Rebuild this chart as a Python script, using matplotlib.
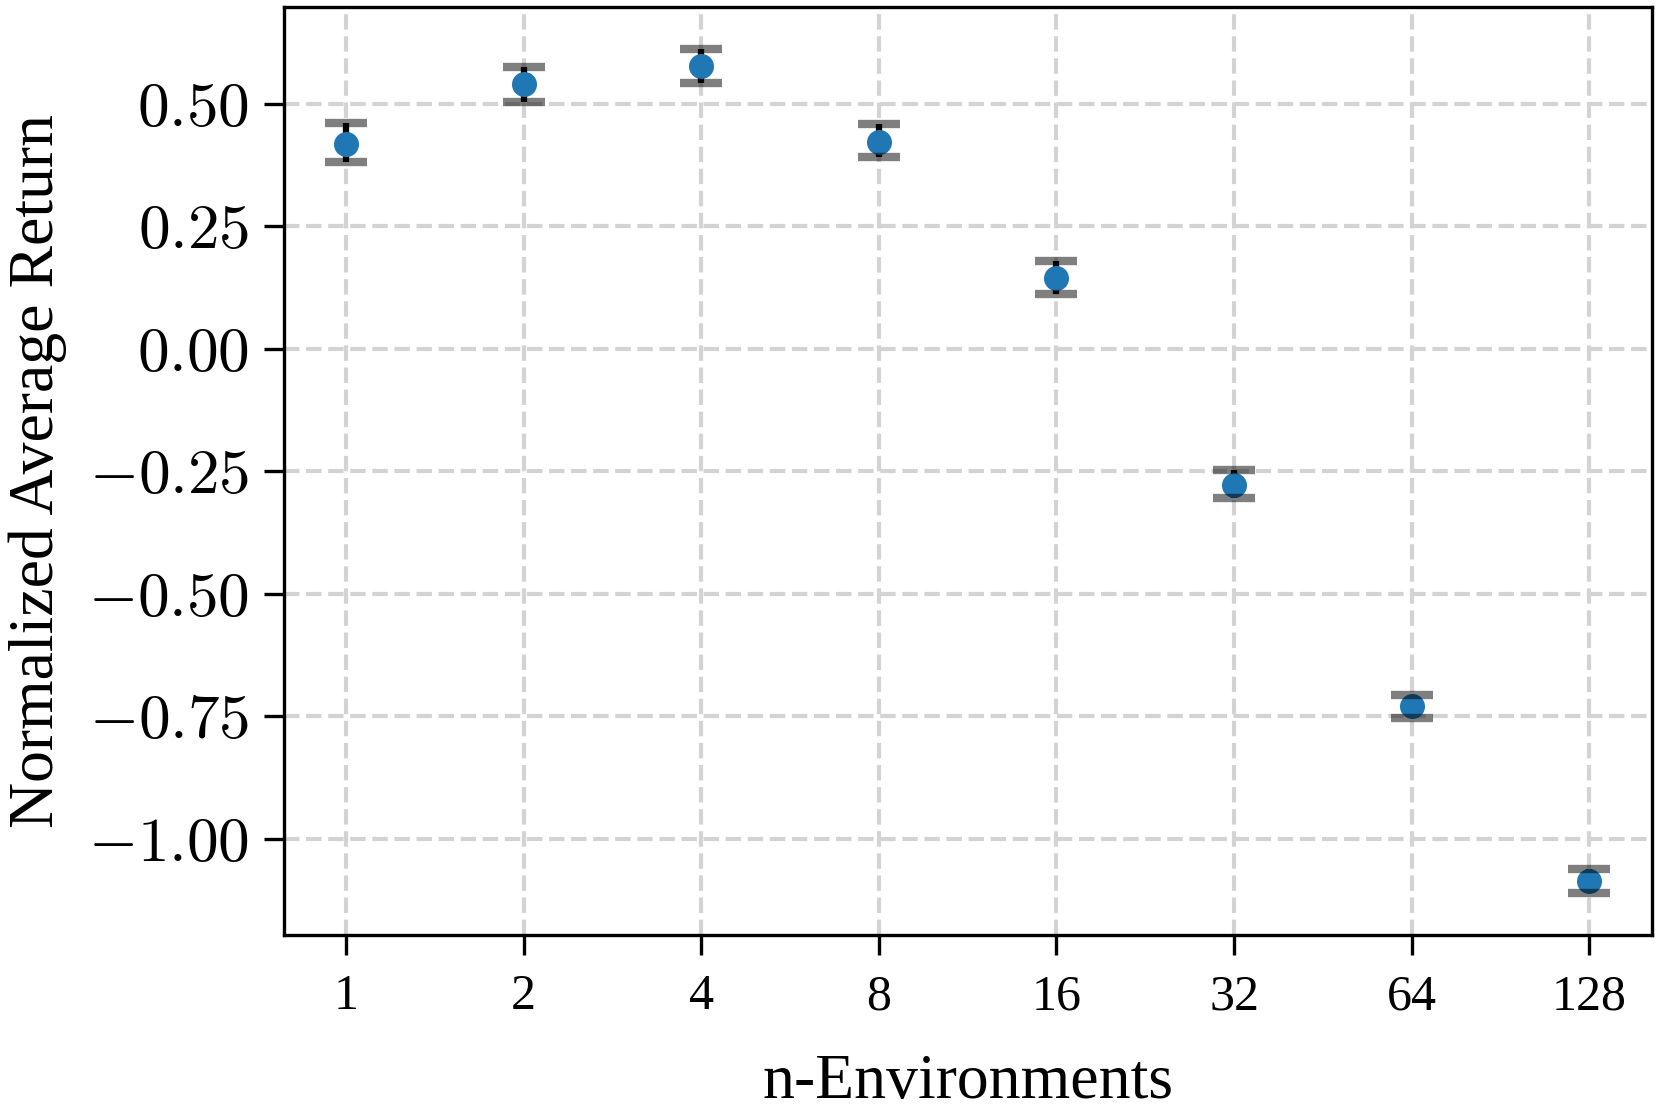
import matplotlib
matplotlib.use("Agg")
import matplotlib.pyplot as plt
from matplotlib.ticker import FuncFormatter
import numpy as np

plt.rcParams['font.family'] = ['Liberation Serif', 'DejaVu Serif']
plt.rcParams['mathtext.fontset'] = 'cm'

categories = ["1", "2", "4", "8", "16", "32", "64", "128"]
means = [0.419, 0.540, 0.577, 0.423, 0.145, -0.279, -0.730, -1.086]
err_low = [0.037, 0.037, 0.035, 0.032, 0.033, 0.026, 0.024, 0.026]
err_high = [0.041, 0.035, 0.036, 0.035, 0.034, 0.031, 0.024, 0.023]
yticks = [-1.00, -0.75, -0.50, -0.25, 0.00, 0.25, 0.50]

fig = plt.figure(figsize=(1659 / 300, 1119 / 300), dpi=300)
ax = fig.add_axes([0.171, 0.1644, 0.9955 - 0.171, 0.9934 - 0.1644])

x = np.arange(len(categories))
ax.grid(True, linestyle='--', color='#d3d3d3', linewidth=1.0, zorder=0)
ax.set_axisbelow(True)

eb = ax.errorbar(x, means, yerr=[err_low, err_high], fmt='o', color='#1f77b4',
                 markersize=5, ecolor='black', elinewidth=1.5, capsize=5,
                 capthick=2, zorder=3)
for cap in eb[1]:
    cap.set_color('black')
    cap.set_alpha(0.5)
    cap.set_zorder(4)

ax.set_xticks(x)
ax.set_xticklabels(categories)
ax.set_yticks(yticks)
ax.yaxis.set_major_formatter(FuncFormatter(lambda v, p: "$%.2f$" % v))
ax.set_xlim(-0.35, 7.35)
ax.set_ylim(-1.197, 0.697)

ax.tick_params(axis='both', length=4.8, width=0.8, direction='out')
ax.tick_params(axis='x', labelsize=12, pad=4.5)
ax.tick_params(axis='y', labelsize=15.2)
for s in ax.spines.values():
    s.set_linewidth(0.8)

ax.set_xlabel("n-Environments", fontsize=15.3, labelpad=8)
ax.set_ylabel("Normalized Average Return", fontsize=15.3, labelpad=5)

fig.savefig("out.png", dpi=300)
